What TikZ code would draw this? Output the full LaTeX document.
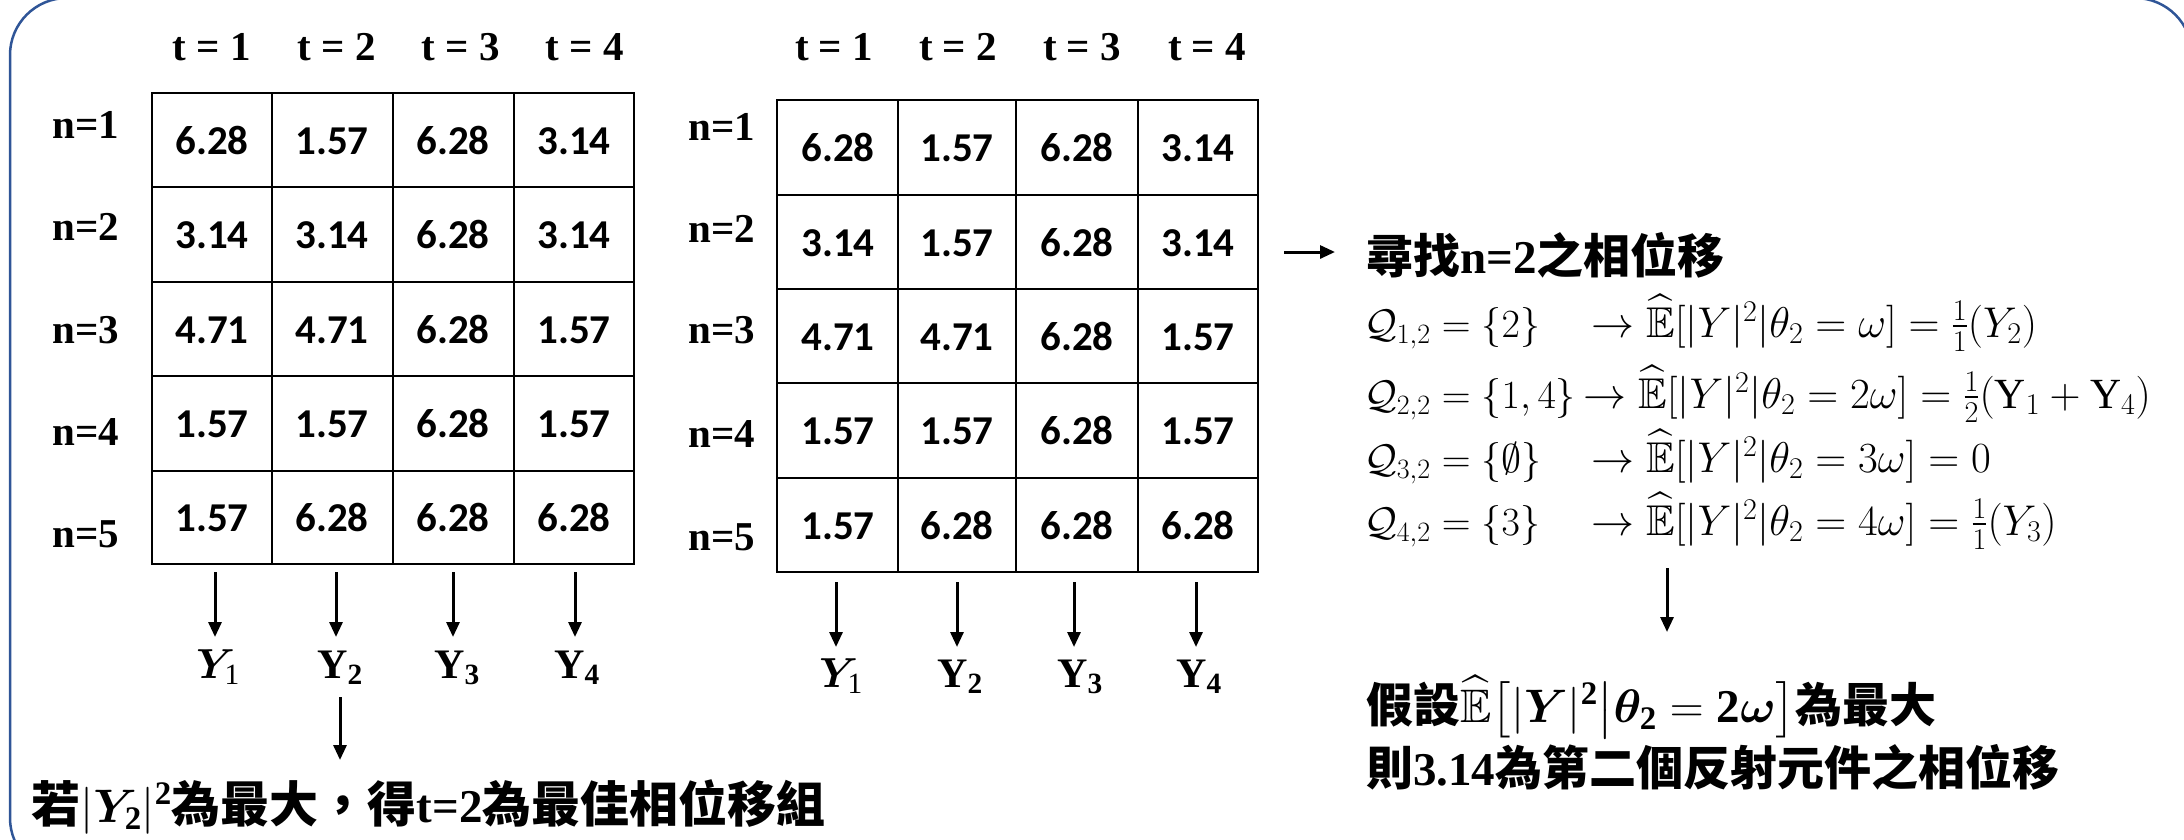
\RequirePackage{fix-cm}
\documentclass[tikz,border=0pt]{standalone}
\usepackage{amsmath,amssymb,bm}
\usepackage{fontspec}
\setmainfont{Liberation Serif}
\newfontfamily\carl{Carlito}
\newfontfamily\cjk{Noto Sans CJK TC}
\usetikzlibrary{arrows.meta}
\definecolor{frameblue}{RGB}{47,85,151}
\tikzset{
  lbl/.style={inner sep=0pt, anchor=base, font=\bfseries\fontsize{41}{41}\selectfont},
  cell/.style={inner sep=0pt, anchor=base, font=\carl\bfseries\fontsize{41}{41}\selectfont},
  gridline/.style={line width=2.2pt},
  arr/.style={line width=3pt, -{Triangle[width=13pt,length=15pt]}},
  ylab/.style={inner sep=0pt, anchor=base, font=\bfseries\fontsize{42}{42}\selectfont},
  eq/.style={inner sep=0pt, anchor=base west, font=\fontsize{40}{40}\selectfont},
  eqr/.style={inner sep=0pt, anchor=base west, font=\fontsize{43}{43}\selectfont},
  bigtxt/.style={inner sep=0pt, anchor=base west, font=\bfseries\fontsize{47}{47}\selectfont},
}
\newcommand\cjkb[1]{{\cjk\fontsize{49}{49}\selectfont #1}}
\begin{document}
\begin{tikzpicture}[x=1pt,y=-1pt]
\useasboundingbox (0,0) rectangle (2184,839);
% frame
\draw[frameblue, line width=2.5pt, rounded corners=57pt] (10,-2) rectangle (2192,875);

% ---------- table 1 ----------
\draw[gridline] (152,93) rectangle (634,564);
\foreach \x in {272,393,514} \draw[gridline] (\x,93) -- (\x,564);
\foreach \y in {187,282,376,471} \draw[gridline] (152,\y) -- (634,\y);
\foreach \yy/\a/\b/\c/\d [count=\r] in {154/6.28/1.57/6.28/3.14, 248.5/3.14/3.14/6.28/3.14, 343/4.71/4.71/6.28/1.57, 437.5/1.57/1.57/6.28/1.57, 531.5/1.57/6.28/6.28/6.28}{
  \node[cell] (p-\r-1) at (212,\yy) {\a};
  \node[cell] (p-\r-2) at (332,\yy) {\b};
  \node[cell] (p-\r-3) at (453,\yy) {\c};
  \node[cell] (p-\r-4) at (574,\yy) {\d};
}
\foreach \x/\t in {212/1,337/2,461/3,585/4} \node[lbl] (pt\t) at (\x,60) {t = \t};
\foreach \y/\n in {138/1,240/2,343/3,445/4,547/5} \node[lbl] (pn\n) at (86,\y) {n=\n};
% arrows & Y labels table 1
\foreach \x [count=\i] in {215,336,453,575}{
  \coordinate (pa\i) at (\x,572);
  \coordinate (pb\i) at (\x,637);
  \draw[arr] (pa\i) -- (pb\i);
}
\node[ylab] (pY1) at (218,678) {$\bm{Y}_{\mathrm{1}}$};
\node[ylab] (pY2) at (340,678) {Y\textsubscript{2}};
\node[ylab] (pY3) at (457,678) {Y\textsubscript{3}};
\node[ylab] (pY4) at (577,678) {Y\textsubscript{4}};
\coordinate (pc1) at (340,697);
\coordinate (pc2) at (340,760);
\draw[arr] (pc1) -- (pc2);
\node[bigtxt] (bottomtxt) at (31,822) {\cjkb{若}$|\bm{Y}_{\mathbf{2}}|^{\mathbf{2}}$\cjkb{為最大，得}t=2\cjkb{為最佳相位移組}};

% ---------- table 2 ----------
\draw[gridline] (777,100) rectangle (1258,572);
\foreach \x in {898,1016,1138} \draw[gridline] (\x,100) -- (\x,572);
\foreach \y in {195,289,383,478} \draw[gridline] (777,\y) -- (1258,\y);
\foreach \yy/\a/\b/\c/\d [count=\r] in {161.5/6.28/1.57/6.28/3.14, 256/3.14/1.57/6.28/3.14, 350/4.71/4.71/6.28/1.57, 444.5/1.57/1.57/6.28/1.57, 539/1.57/6.28/6.28/6.28}{
  \node[cell] (q-\r-1) at (838,\yy) {\a};
  \node[cell] (q-\r-2) at (957,\yy) {\b};
  \node[cell] (q-\r-3) at (1077,\yy) {\c};
  \node[cell] (q-\r-4) at (1198,\yy) {\d};
}
\foreach \x/\t in {834/1,958/2,1082/3,1207/4} \node[lbl] (qt\t) at (\x,60) {t = \t};
\foreach \y/\n in {140/1,242/2,343/3,447/4,550/5} \node[lbl] (qn\n) at (722,\y) {n=\n};
\foreach \x [count=\i] in {836,957,1074,1196}{
  \coordinate (qa\i) at (\x,582);
  \coordinate (qb\i) at (\x,647);
  \draw[arr] (qa\i) -- (qb\i);
}
\node[ylab] (qY1) at (841,687) {$\bm{Y}_{\mathrm{1}}$};
\node[ylab] (qY2) at (960,687) {Y\textsubscript{2}};
\node[ylab] (qY3) at (1080,687) {Y\textsubscript{3}};
\node[ylab] (qY4) at (1199,687) {Y\textsubscript{4}};

% ---------- right part ----------
\coordinate (ra1) at (1284,252);
\coordinate (ra2) at (1335,252);
\draw[arr] (ra1) -- (ra2);
\node[bigtxt] (head) at (1366,273) {{\cjk 尋找}n=2{\cjk 之相位移}};

\node[eq] (l1) at (1364,337) {$\mathcal{Q}_{1,2} = \{2\}$};
\node[eqr] (r1) at (1591,337) {$\to \widehat{\mathbb{E}}[|Y|^2|\theta_2 = \omega] = \frac{1}{1}(Y_2)$};
\node[eq] (l2) at (1364,408) {$\mathcal{Q}_{2,2} = \{1,4\}$};
\node[eqr] (r2) at (1583,408) {$\to \widehat{\mathbb{E}}[|Y|^2|\theta_2 = 2\omega] = \frac{1}{2}(\mathrm{Y}_1 + \mathrm{Y}_4)$};
\node[eq] (l3) at (1364,472) {$\mathcal{Q}_{3,2} = \{\emptyset\}$};
\node[eqr] (r3) at (1591,472) {$\to \widehat{\mathbb{E}}[|Y|^2|\theta_2 = 3\omega] = 0$};
\node[eq] (l4) at (1364,535) {$\mathcal{Q}_{4,2} = \{3\}$};
\node[eqr] (r4) at (1591,535) {$\to \widehat{\mathbb{E}}[|Y|^2|\theta_2 = 4\omega] = \frac{1}{1}(Y_3)$};

\coordinate (rd1) at (1667,568);
\coordinate (rd2) at (1667,632);
\draw[arr] (rd1) -- (rd2);

\node[bigtxt] (fin1) at (1366,722) {{\cjk 假設}$\widehat{\mathbb{E}}\big[|\bm{Y}|^{\mathbf{2}}\big|\bm{\theta}_{\mathbf{2}} = \mathbf{2}\bm{\omega}\big]${\cjk 為最大}};
\node[bigtxt] (fin2) at (1366,785) {{\cjk 則}3.14{\cjk 為第二個反射元件之相位移}};
\end{tikzpicture}
\end{document}
